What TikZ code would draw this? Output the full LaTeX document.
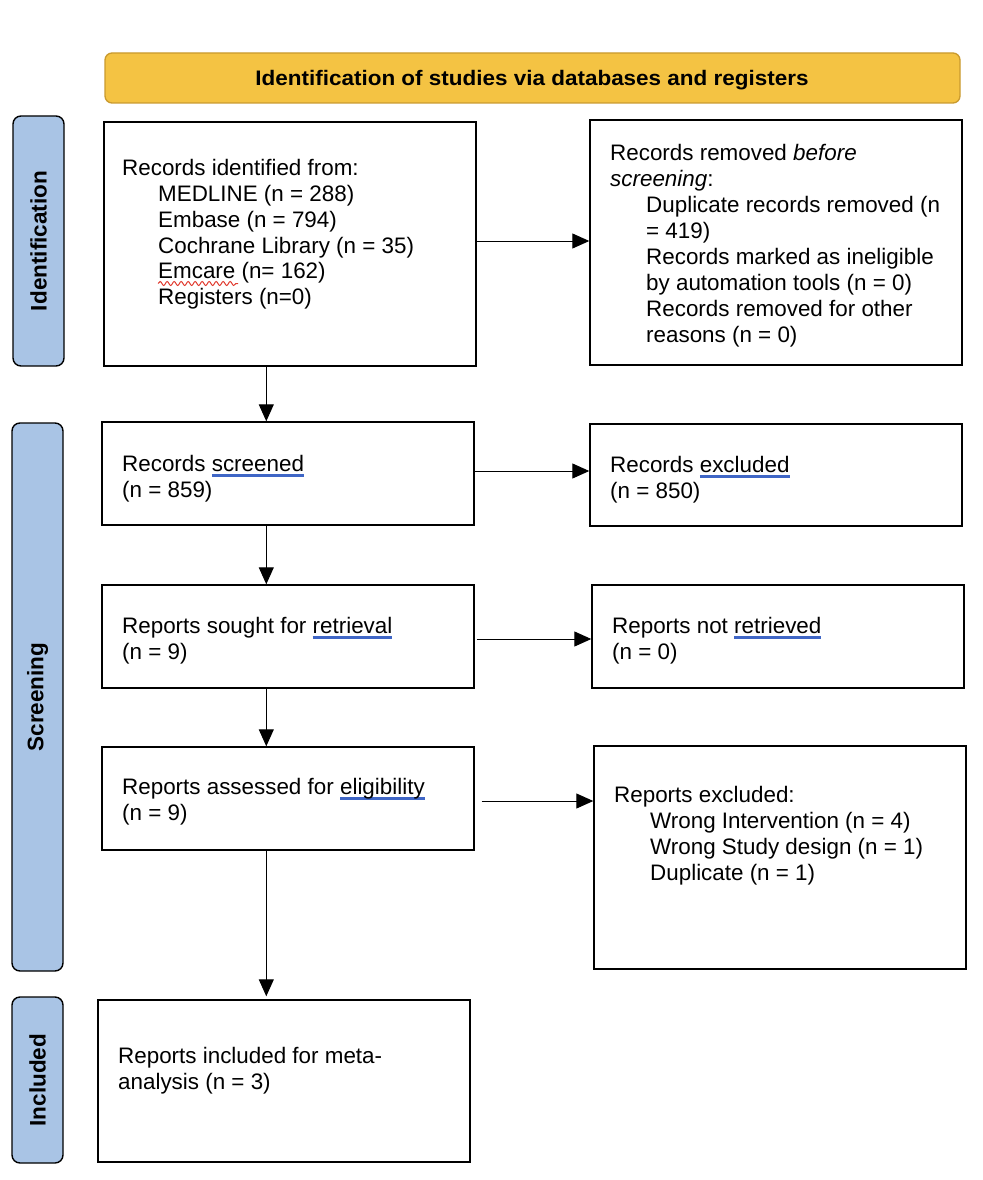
\documentclass[tikz,border=0pt]{standalone}
\usepackage{fontspec}
\usepackage{graphicx}
\setmainfont{Liberation Sans}
\usetikzlibrary{arrows.meta,decorations.pathmorphing}
\definecolor{bannerfill}{HTML}{F4C343}
\definecolor{bannerdraw}{HTML}{C99A2E}
\definecolor{sidefill}{HTML}{A9C4E5}
\definecolor{ulblue}{HTML}{3F66C6}
\definecolor{ulred}{HTML}{E03A2E}
\newcommand\bluul[1]{\setbox0\hbox{#1}\rlap{\color{ulblue}\rule[-5.3pt]{\wd0}{2.8pt}}\box0}
\begin{document}
\begin{tikzpicture}[x=1pt,y=-1pt,
  box/.style={draw, line width=1.4pt, inner sep=0},
  sidebox/.style={draw, fill=sidefill, rounded corners=8pt, line width=1.4pt, inner sep=0},
  txt/.style={anchor=north west, inner sep=0, align=left, font=\fontsize{22.4}{25.9}\selectfont, execute at begin node=\strut},
  lab/.style={font=\fontsize{22.5}{26}\selectfont\bfseries, rotate=90, inner sep=0},
  arr/.style={-{Triangle[length=17pt,width=15pt]}, line width=1pt}
]
\useasboundingbox (0,0) rectangle (982,1180);

% banner
\node[draw=bannerdraw, fill=bannerfill, rounded corners=7pt, line width=1.3pt,
      minimum width=855pt, minimum height=50pt, inner sep=0] (ban) at (532.5,78) {};
\node[inner sep=0] (bant) at (532,80.5)
      {\fontsize{21}{24}\selectfont\bfseries\scalebox{1.07}[1]{Identification of studies via databases and registers}};

% side labels
\node[sidebox, minimum width=51pt, minimum height=250pt] (s1) at (38.5,241) {};
\node[sidebox, minimum width=51pt, minimum height=548pt] (s2) at (37.5,697) {};
\node[sidebox, minimum width=51pt, minimum height=166pt] (s3) at (37.5,1080) {};
\node[lab] (l1) at (s1.center) {Identification};
\node[lab] (l2) at (s2.center) {Screening};
\node[lab] (l3) at (s3.center) {Included};

% boxes
\node[box, minimum width=372pt, minimum height=244pt] (b1) at (290,244) {};
\node[box, minimum width=372pt, minimum height=245pt] (b2) at (776,242.5) {};
\node[box, minimum width=372pt, minimum height=103pt] (b3) at (288,473.5) {};
\node[box, minimum width=372pt, minimum height=102pt] (b4) at (776,475) {};
\node[box, minimum width=372pt, minimum height=103pt] (b5) at (288,636.5) {};
\node[box, minimum width=372pt, minimum height=103pt] (b6) at (778,636.5) {};
\node[box, minimum width=372pt, minimum height=103pt] (b7) at (288,798.5) {};
\node[box, minimum width=372pt, minimum height=223pt] (b8) at (780,857.5) {};
\node[box, minimum width=372pt, minimum height=162pt] (b9) at (284,1081) {};

% texts
\node[txt] (t1) at (122,158.9) {Records identified from:\\
  \hspace*{36pt}MEDLINE (n = 288)\\
  \hspace*{36pt}Embase (n = 794)\\
  \hspace*{36pt}Cochrane Library (n = 35)\\
  \hspace*{36pt}Emcare (n= 162)\\
  \hspace*{36pt}Registers (n=0)};
\node[txt] (t2) at (610,144.4) {Records removed \textit{before}\\
  \textit{screening}:\\
  \hspace*{36pt}Duplicate records removed (n\\
  \hspace*{36pt}= 419)\\
  \hspace*{36pt}Records marked as ineligible\\
  \hspace*{36pt}by automation tools (n = 0)\\
  \hspace*{36pt}Records removed for other\\
  \hspace*{36pt}reasons (n = 0)};
\node[txt] (t3) at (122,455.4) {Records \bluul{screened}\\(n = 859)};
\node[txt] (t4) at (610,456.4) {Records \bluul{excluded}\\(n = 850)};
\node[txt] (t5) at (122,617.4) {Reports sought for \bluul{retrieval}\\(n = 9)};
\node[txt] (t6) at (612,617.4) {Reports not \bluul{retrieved}\\(n = 0)};
\node[txt] (t7) at (122,778.4) {Reports assessed for \bluul{eligibility}\\(n = 9)};
\node[txt] (t8) at (614,786.4) {Reports excluded:\\
  \hspace*{36pt}Wrong Intervention (n = 4)\\
  \hspace*{36pt}Wrong Study design (n = 1)\\
  \hspace*{36pt}Duplicate (n = 1)};
\node[txt] (t9) at (118,1047.4) {Reports included for meta-\\analysis (n = 3)};

% red wavy underline under "Emcare"
\coordinate (w1) at (158,283.5);
\coordinate (w2) at (238,283.5);
\draw[ulred, line width=1pt, decorate, decoration={snake, segment length=7pt, amplitude=2pt}] (w1) -- (w2);

% arrows
\draw[arr] ([xshift=163pt]b1.south west) -- ([xshift=165pt]b3.north west);
\draw[arr] ([yshift=3pt]b1.east) -- ([yshift=3pt]b1.east -| b2.west);
\draw[arr] ([yshift=2.5pt]b3.east) -- ([yshift=2.5pt]b3.east -| b4.west);
\draw[arr] ([xshift=165pt]b3.south west) -- ([xshift=165pt]b5.north west);
\draw[arr] ([xshift=2pt,yshift=-2.5pt]b5.east) -- ([yshift=-2.5pt]b5.east -| b6.west);
\draw[arr] ([xshift=165pt]b5.south west) -- ([xshift=165pt]b7.north west);
\draw[arr] ([xshift=7pt,yshift=-2.5pt]b7.east) -- ([yshift=-2.5pt]b7.east -| b8.west);
\draw[arr] ([xshift=165pt]b7.south west) -- ([xshift=169pt,yshift=3pt]b9.north west);
\end{tikzpicture}
\end{document}
